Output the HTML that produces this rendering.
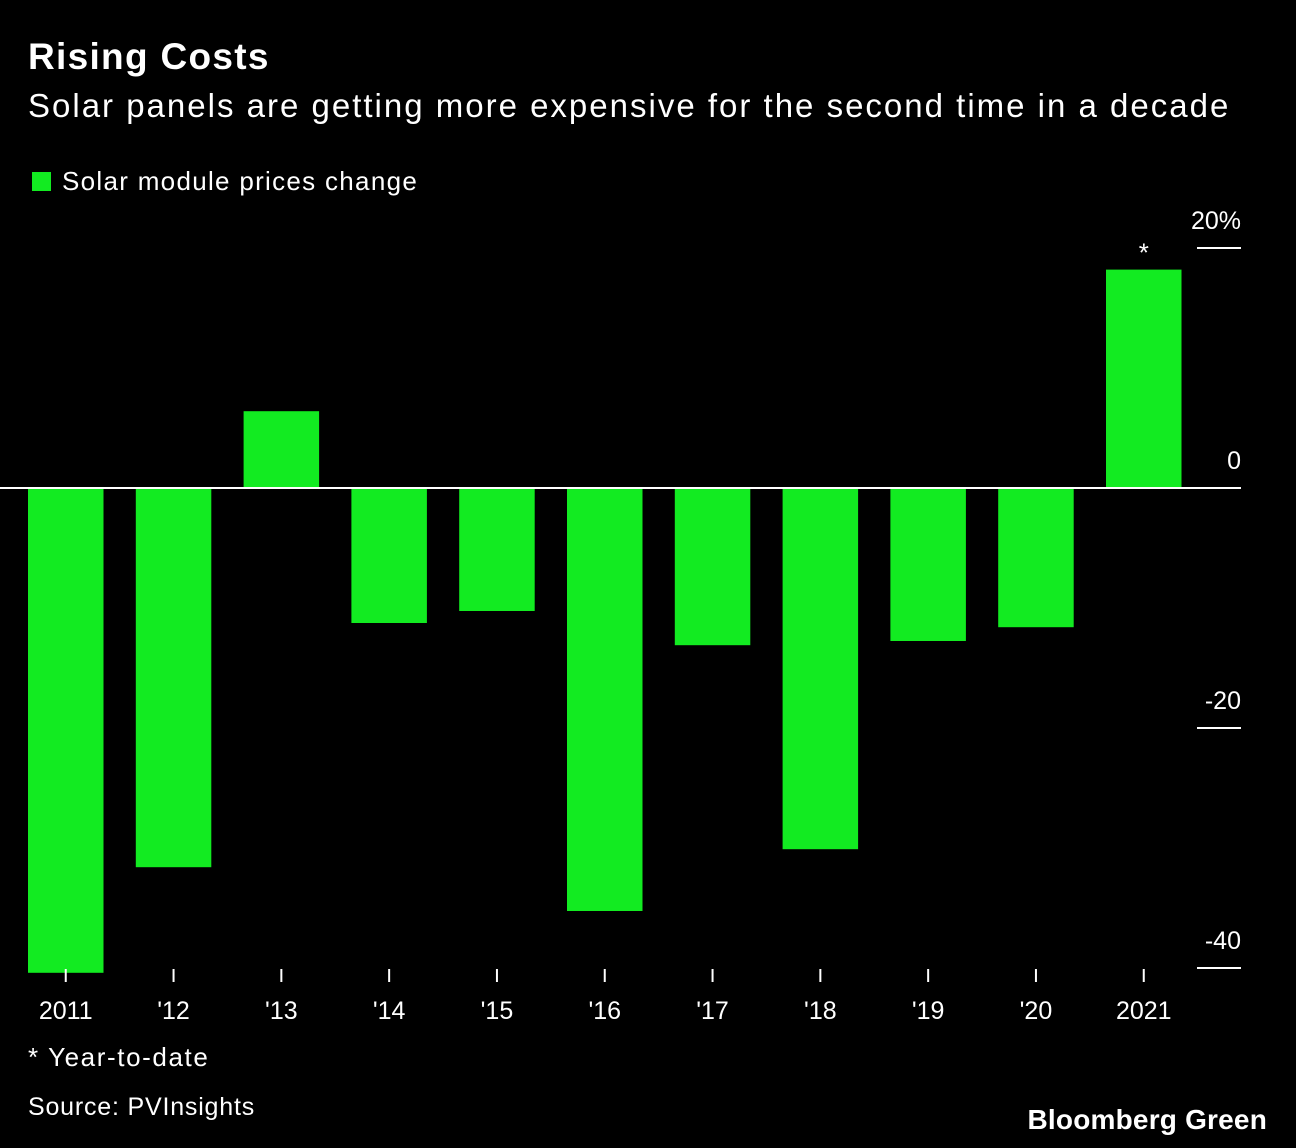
<!DOCTYPE html>
<html><head><meta charset="utf-8"><style>
body{margin:0;background:#000;width:1296px;height:1148px;overflow:hidden;font-family:"Liberation Sans",sans-serif;color:#fff}
.t{position:absolute;white-space:nowrap}
</style></head><body>
<div class="t" style="left:28px;top:36px;font-size:37px;font-weight:bold;letter-spacing:1.3px">Rising Costs</div>
<div class="t" style="left:28px;top:87px;font-size:33px;letter-spacing:2px">Solar panels are getting more expensive for the second time in a decade</div>
<div class="t" style="left:32px;top:166px;font-size:26px;letter-spacing:1.3px"><span style="display:inline-block;width:19px;height:19px;background:#12eb21;margin-right:11px;vertical-align:-1px"></span>Solar module prices change</div>
<div class="t" style="left:28px;top:1042px;font-size:26px;letter-spacing:1.6px">* Year-to-date</div>
<div class="t" style="left:28px;top:1093px;font-size:25px;letter-spacing:0.8px">Source: PVInsights</div>
<div class="t" style="right:29px;top:1104px;font-size:28px;font-weight:bold;letter-spacing:0.2px">Bloomberg Green</div>
<svg id="c" width="1296" height="1148" style="position:absolute;left:0;top:0"></svg>
<script>
const categories=["2011","'12","'13","'14","'15","'16","'17","'18","'19","'20","2021"];
const values=[-40.4,-31.6,6.4,-11.25,-10.25,-35.25,-13.1,-30.1,-12.75,-11.6,18.2];
const tickValues=[20,0,-20,-40];
const tickLabels=["20%","0","-20","-40"];
const ns="http://www.w3.org/2000/svg";
const svg=document.getElementById('c');
const y=v=>488-v*12;
const x=i=>28+i*107.8;
const bw=75.5;
function el(t,a){const e=document.createElementNS(ns,t);for(const k in a)e.setAttribute(k,a[k]);svg.appendChild(e);return e;}
values.forEach((v,i)=>{
  const r=el('rect',{x:x(i),y:Math.min(y(v),y(0)),width:bw,height:Math.abs(y(v)-y(0)),fill:'#12eb21'});
  
  
  const cx=x(i)+bw/2;
  const tk=el('line',{x1:cx,x2:cx,y1:969,y2:982,stroke:'#fff','stroke-width':2});
  
  
  const tl=el('text',{x:cx,y:1019,'text-anchor':'middle','font-size':25,fill:'#fff'});
  tl.textContent=categories[i];
  
  
});
const ast=el('text',{x:x(10)+bw/2,y:y(values[10])-8,'text-anchor':'middle','font-size':26,fill:'#fff'});
ast.textContent='*';


tickValues.forEach((v,i)=>{
  const l=el('line',{x1:v===0?0:1197,x2:1241,y1:y(v),y2:y(v),stroke:'#fff','stroke-width':2});
  
  
  const t=el('text',{x:1241,y:y(v)-19,'text-anchor':'end','font-size':25,fill:'#fff'});
  t.textContent=tickLabels[i];
  
  
});
</script>
</body></html>
